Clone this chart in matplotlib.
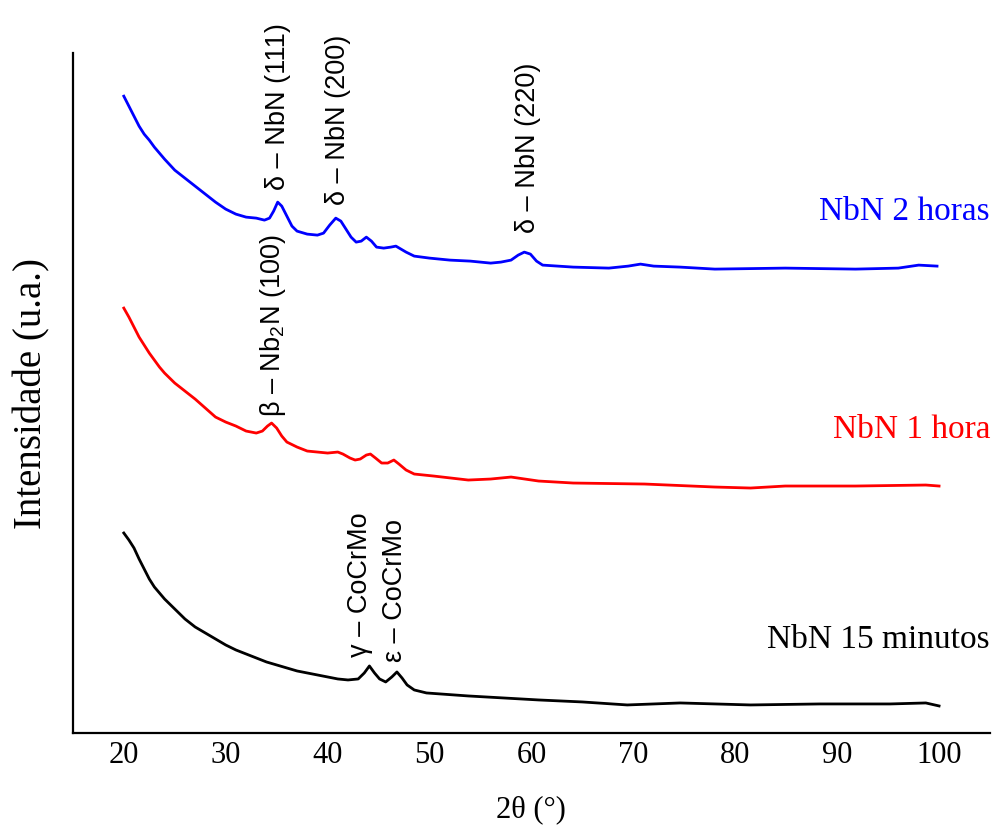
import matplotlib
matplotlib.use("Agg")
import matplotlib.pyplot as plt

plt.rcParams['mathtext.fontset'] = 'custom'
plt.rcParams['mathtext.rm'] = 'Liberation Sans'

# difratogramas (intensidade em u.a.)
x_2h = [20, 20.5, 21, 21.5, 22, 22.5, 23, 23.5, 24, 25, 26, 27, 28, 29, 30, 31, 32, 33,
        33.8, 34.3, 34.7, 35.1, 35.5, 36, 36.5, 37, 38, 39, 39.6, 40.2, 40.8, 41.3, 41.8,
        42.3, 42.8, 43.3, 43.8, 44.3, 44.8, 45.5, 46.2, 46.7, 47.2, 47.7, 48.5, 50, 52, 54,
        56, 57, 58, 58.7, 59.3, 59.9, 60.5, 61.1, 64.1, 67.6, 69.5, 70.7, 72, 74.6, 78.0,
        84.9, 91.8, 96, 98.0, 99.8]
y_2h = [637, 627, 617, 607, 599, 593, 586, 580, 574, 563, 555, 547, 539, 531, 524, 519, 516, 515,
        513, 515, 522, 531, 527, 517, 507, 502, 499, 498, 500, 508, 515, 512, 504,
        496, 491, 492, 496, 492, 486, 485, 486, 487, 484, 481, 477, 475, 473, 472,
        470, 471, 473, 478, 481, 479, 472, 468, 466, 465, 467, 469, 467, 466, 464,
        465, 464, 465, 468, 467]

x_1h = [20, 20.5, 21, 21.5, 22, 22.5, 23, 23.5, 24, 25, 26, 27, 28, 29, 30, 31, 32, 33,
        33.6, 34.1, 34.5, 35, 35.5, 36, 37, 38, 39, 40, 41, 41.5, 42.2, 42.7, 43.2, 43.8,
        44.2, 44.7, 45.3, 45.9, 46.5, 47, 47.7, 48.5, 50.4, 53.8, 56, 58.0, 60.7, 64.1,
        71.1, 78.0, 81.5, 84.9, 91.8, 98.7, 100]
y_1h = [425, 416, 406, 396, 388, 380, 373, 366, 360, 350, 342, 334, 325, 316, 311, 307, 302, 300,
        302, 307, 310, 305, 297, 291, 286, 282, 281, 280, 281, 279, 275, 273, 274, 278,
        279, 275, 270, 270, 273, 269, 263, 259, 257, 253, 254, 256, 252, 250,
        249, 246, 245, 247, 247, 248, 247]

x_15m = [20, 20.5, 21, 21.5, 22, 22.5, 23, 23.5, 24, 25, 26, 27, 28, 29, 30, 31, 32, 33,
         34, 35, 36, 37, 38, 39, 40, 41, 42, 43, 43.6, 44.1, 44.6, 45.1, 45.7, 46.3, 46.8,
         47.3, 47.8, 48.5, 49.7, 53.8, 60.7, 65, 69.4, 74.6, 81.5, 88.3, 95.2, 98.7, 100]
y_15m = [200, 193, 185, 174, 164, 154, 146, 140, 134, 124, 114, 106, 100, 94, 88, 83, 79, 75,
         71, 68, 65, 62, 60, 58, 56, 54, 53, 54, 60, 67, 60, 54, 51, 56, 61,
         55, 48, 43, 40, 37, 33, 31, 28, 30, 28, 29, 29, 30, 27]

series = [(x_2h, y_2h, 'blue', 'NbN 2 horas', 521),
          (x_1h, y_1h, 'red', 'NbN 1 hora', 303),
          (x_15m, y_15m, 'black', 'NbN 15 minutos', 93)]

# picos identificados: (texto, posicao 2theta, intensidade da base do texto)
picos = [('δ – NbN (111)', 35.1, 543),
         ('δ – NbN (200)', 41.0, 528),
         ('δ – NbN (220)', 59.7, 500),
         ('β – Nb$\\mathregular{_2}$N (100)', 34.6, 316),
         ('γ – CoCrMo', 43.2, 76),
         ('ε – CoCrMo', 46.6, 71)]

fig = plt.figure(figsize=(9.98, 8.31), dpi=100)
ax = fig.add_axes([0.073, 0.118, 0.919, 0.818])

for xs, ys, c, nome, ypos in series:
    ax.plot(xs, ys, color=c, lw=2.0)
    ax.text(105, ypos, nome, color=c, ha='right', va='center',
            family='Liberation Serif', fontsize=24)

for txt, xp, yp in picos:
    ax.text(xp, yp, txt, rotation=90, ha='center', va='bottom',
            family=['Liberation Sans', 'DejaVu Sans'], fontsize=19.5)

ax.set_xlim(15, 105)
ax.set_ylim(0, 680)
ax.set_xticks(range(20, 101, 10))
ax.set_yticks([])
ax.tick_params(axis='x', length=0, pad=6)
for lab in ax.get_xticklabels():
    lab.set_family('Liberation Serif')
    lab.set_fontsize(22)

ax.spines['top'].set_visible(False)
ax.spines['right'].set_visible(False)
ax.spines['left'].set_linewidth(1.6)
ax.spines['bottom'].set_linewidth(1.6)

ax.set_xlabel('2θ (°)', family='Liberation Serif', fontsize=22, labelpad=18)
ax.set_ylabel('Intensidade (u.a.)', family='Liberation Serif', fontsize=28, labelpad=16)

fig.savefig('out.png', dpi=100)
